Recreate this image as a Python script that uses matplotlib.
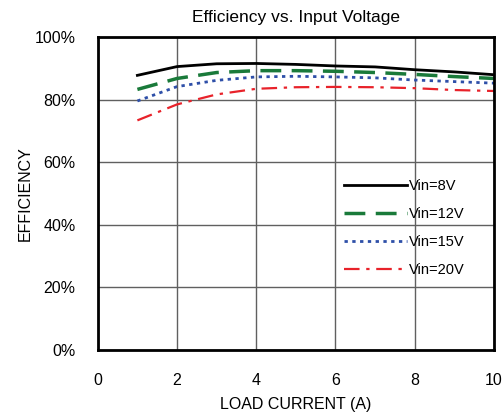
import matplotlib
matplotlib.use("Agg")
import matplotlib.pyplot as plt
from matplotlib.ticker import FuncFormatter

plt.rcParams["font.family"] = ["Liberation Sans", "DejaVu Sans"]

# load current (A)
current = [1, 2, 3, 4, 5, 6, 7, 8, 9, 10]

# efficiency (%)
eff_8v = [87.8, 90.6, 91.5, 91.6, 91.3, 90.8, 90.5, 89.6, 88.9, 88.0]
eff_12v = [83.3, 86.8, 88.7, 89.3, 89.3, 89.1, 88.7, 88.1, 87.4, 86.8]
eff_15v = [79.6, 84.2, 86.2, 87.3, 87.5, 87.3, 87.0, 86.3, 85.8, 85.3]
eff_20v = [73.4, 78.5, 81.7, 83.5, 84.0, 84.1, 84.0, 83.7, 83.1, 82.8]

x_ticks = [0, 2, 4, 6, 8, 10]
y_ticks = [0, 20, 40, 60, 80, 100]

fig = plt.figure(figsize=(5.04, 4.18), dpi=100)
ax = fig.add_axes([0.194, 0.163, 0.786, 0.748])

ax.plot(current, eff_8v, color="black", linewidth=2.0, label="Vin=8V")
ax.plot(current, eff_12v, color="#1a7a3a", linewidth=2.5, dashes=(6, 3), label="Vin=12V")
ax.plot(current, eff_15v, color="#2e4fa8", linewidth=2.0, dashes=(1.2, 1.6), label="Vin=15V")
ax.plot(current, eff_20v, color="#e8222a", linewidth=1.6, dashes=(7, 3, 1.5, 3), label="Vin=20V")

ax.set_xlim(0, 10)
ax.set_ylim(0, 100)
ax.set_xticks(x_ticks)
ax.set_yticks(y_ticks)
ax.yaxis.set_major_formatter(FuncFormatter(lambda v, _: f"{v:.0f}%"))
ax.tick_params(length=0, labelsize=11.5)
ax.tick_params(axis="x", pad=17)
ax.tick_params(axis="y", pad=16)
ax.grid(True, color="#606060", linewidth=1.0)

for sp in ax.spines.values():
    sp.set_linewidth(2.0)
    sp.set_color("black")

ax.set_title("Efficiency vs. Input Voltage", fontsize=12.5, pad=11)
ax.set_xlabel("LOAD CURRENT (A)", fontsize=11.5, labelpad=6)
ax.set_ylabel("EFFICIENCY", fontsize=11.5, labelpad=1)

ax.legend(loc="center right", bbox_to_anchor=(0.925, 0.39), frameon=False,
          fontsize=10.5, handlelength=4.3, handletextpad=0.1, labelspacing=0.95,
          borderaxespad=0, borderpad=0)

fig.savefig("out.png", dpi=100)
